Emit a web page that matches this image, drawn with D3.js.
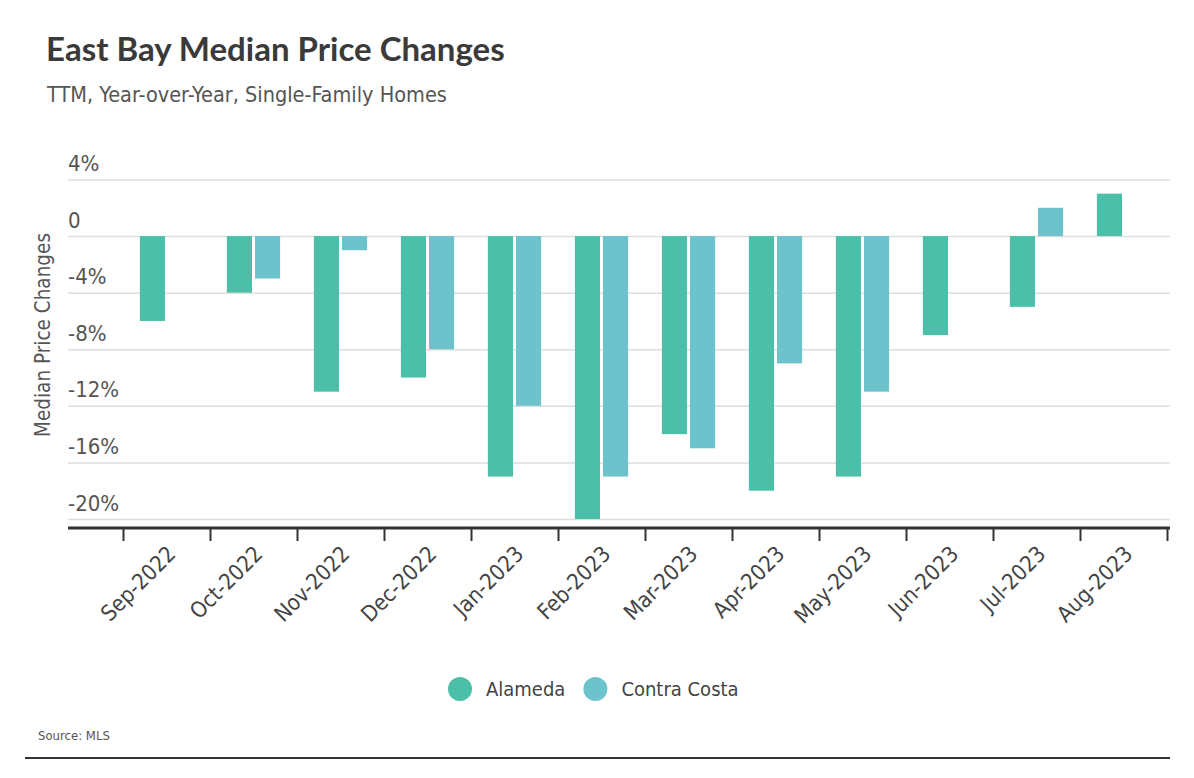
<!DOCTYPE html>
<html>
<head>
<meta charset="utf-8">
<script src="https://cdn.jsdelivr.net/npm/d3@7"></script>
<style>
  body { margin: 0; background: #fff; }
  svg text { font-family: "Liberation Sans Narrow", "DejaVu Sans Condensed", sans-serif; }
</style>
</head>
<body>
<div class="content"></div>
<script>
const months = ['Sep-2022', 'Oct-2022', 'Nov-2022', 'Dec-2022', 'Jan-2023', 'Feb-2023',
                'Mar-2023', 'Apr-2023', 'May-2023', 'Jun-2023', 'Jul-2023', 'Aug-2023'];
const seriesNames = ['Alameda', 'Contra Costa'];
const alameda = [-6, -4, -11, -10, -17, -20, -14, -18, -17, -7, -5, 3];
const contraCosta = [null, -3, -1, -8, -12, -17, -15, -9, -11, null, 2, null];
const yTicks = [4, 0, -4, -8, -12, -16, -20];
const colors = ['#4bbfa8', '#6cc3cc'];

const width = 1194, height = 778;

const setUpChart = () => {
  let svg = d3.select('div.content')
              .append('svg')
              .attr('width', width)
              .attr('height', height);

  // title block
  svg.append('text')
     .attr('x', 46).attr('y', 61)
     .style('font-family', 'Lato, "Open Sans", sans-serif')
     .style('font-weight', 700)
     .style('font-size', '33px')
     .attr('fill', '#3a3a3a')
     .text('East Bay Median Price Changes');

  svg.append('text')
     .attr('x', 47).attr('y', 102)
     .style('font-size', '21.5px')
     .attr('fill', '#555')
     .text('TTM, Year-over-Year, Single-Family Homes');

  let yScale = d3.scaleLinear()
                 .domain([-20, 4])
                 .range([519, 179.5]);

  let x0 = d3.scaleBand()
             .domain(months)
             .range([123, 1167])
             .padding(0);

  let x1 = d3.scaleBand()
             .domain(seriesNames)
             .range([0, x0.bandwidth()])
             .paddingInner(0.107)
             .paddingOuter(0.6);

  // gridlines + y labels
  let yAxis = d3.axisLeft(yScale)
                .tickValues(yTicks)
                .tickSize(-(1170 - 68))
                .tickFormat((d) => d === 0 ? '0' : d + '%');

  let gy = svg.append('g')
              .attr('transform', 'translate(68,0)')
              .call(yAxis);
  gy.select('.domain').remove();
  gy.selectAll('.tick line')
    .attr('stroke', '#dedede')
    .attr('stroke-width', 1.5);
  gy.selectAll('.tick text')
    .attr('x', 0)
    .attr('dy', -9)
    .attr('text-anchor', 'start')
    .style('font-size', '22px')
    .attr('fill', '#555');

  svg.append('text')
     .attr('transform', 'translate(50,335) rotate(-90)')
     .attr('text-anchor', 'middle')
     .style('font-size', '20.5px')
     .attr('fill', '#555')
     .text('Median Price Changes');

  // bars
  let rows = months.map((m, i) => ({ month: m, values: [alameda[i], contraCosta[i]] }));

  svg.append('g')
     .selectAll('g')
     .data(rows)
     .enter()
     .append('g')
     .attr('transform', (d) => `translate(${x0(d.month)},0)`)
     .selectAll('rect')
     .data((d) => d.values.map((v, j) => ({ key: seriesNames[j], value: v, color: colors[j] }))
                          .filter((e) => e.value !== null))
     .enter()
     .append('rect')
     .attr('x', (d) => x1(d.key))
     .attr('width', x1.bandwidth())
     .attr('y', (d) => yScale(Math.max(0, d.value)))
     .attr('height', (d) => Math.abs(yScale(d.value) - yScale(0)))
     .attr('fill', (d) => d.color);

  // x axis: boundary ticks and labels
  let idx = d3.scaleLinear()
              .domain([0, months.length])
              .range(x0.range());

  let gTicks = svg.append('g')
                  .attr('transform', 'translate(0,528)')
                  .call(d3.axisBottom(idx).ticks(months.length).tickSize(13).tickSizeOuter(0).tickFormat(''));
  gTicks.select('.domain').remove();
  gTicks.selectAll('.tick line')
        .attr('stroke', '#333')
        .attr('stroke-width', 2);

  svg.append('line')
     .attr('x1', 68).attr('x2', 1170)
     .attr('y1', 528).attr('y2', 528)
     .attr('stroke', '#333')
     .attr('stroke-width', 3);

  let gx = svg.append('g')
              .attr('transform', 'translate(0,528)')
              .call(d3.axisBottom(x0).tickSize(0));
  gx.select('.domain').remove();
  gx.selectAll('.tick text')
    .attr('transform', 'translate(5,22) rotate(-45)')
    .attr('text-anchor', 'end')
    .attr('y', 0)
    .attr('dy', '0.35em')
    .style('font-size', '22px')
    .attr('fill', '#444');

  // legend
  let legend = svg.append('g').attr('transform', 'translate(0,689)');
  let lx = 448;
  seriesNames.forEach((name, i) => {
    legend.append('circle')
          .attr('cx', lx + 12).attr('cy', 0).attr('r', 12)
          .attr('fill', colors[i]);
    let t = legend.append('text')
                  .attr('x', lx + 38).attr('y', 7)
                  .style('font-size', '20px')
                  .attr('fill', '#444')
                  .text(name);
    lx += 38 + t.node().getComputedTextLength() + 18;
  });

  svg.append('text')
     .attr('x', 38).attr('y', 740)
     .style('font-size', '13px')
     .attr('fill', '#555')
     .text('Source: MLS');

  svg.append('line')
     .attr('x1', 25).attr('x2', 1170)
     .attr('y1', 758).attr('y2', 758)
     .attr('stroke', '#333')
     .attr('stroke-width', 2);
}

setUpChart();
</script>
</body>
</html>
